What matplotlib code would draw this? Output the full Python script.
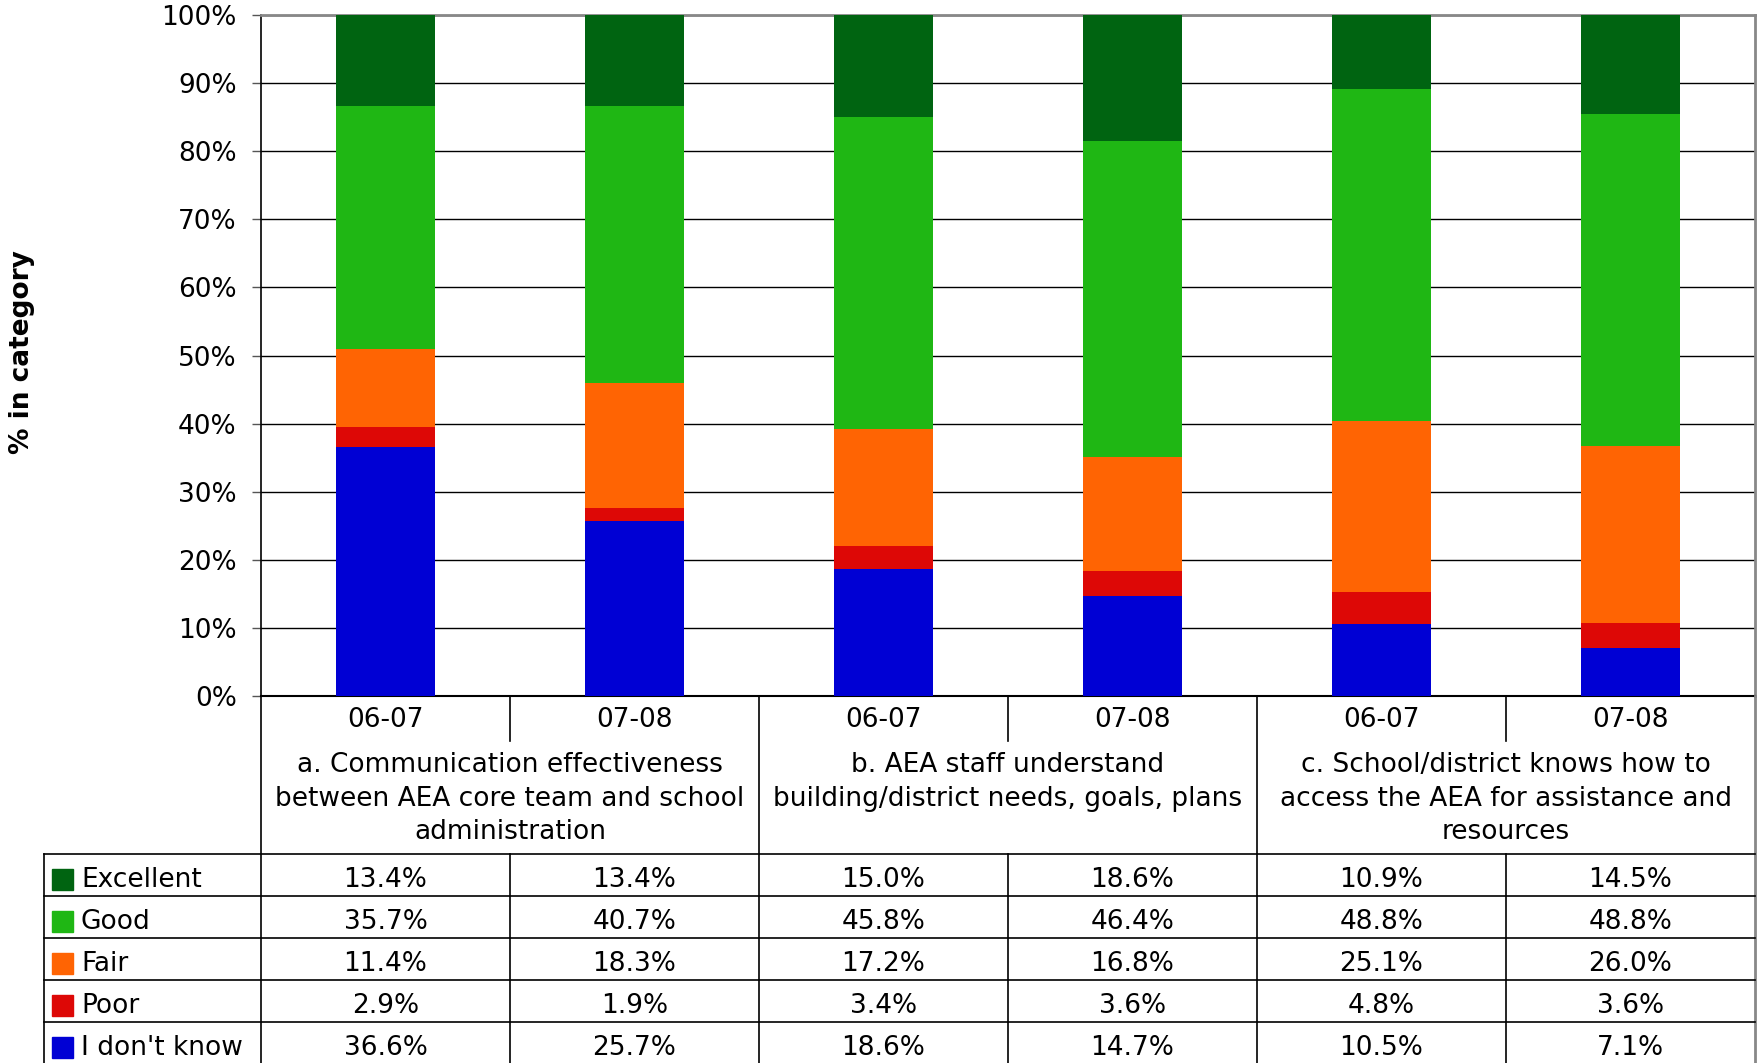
import numpy as np
import matplotlib
matplotlib.use("Agg")
import matplotlib.pyplot as plt
from matplotlib.patches import Rectangle

# === Daten ===
years = ["06-07", "07-08", "06-07", "07-08", "06-07", "07-08"]
groups = [
    "a. Communication effectiveness\nbetween AEA core team and school\nadministration",
    "b. AEA staff understand\nbuilding/district needs, goals, plans",
    "c. School/district knows how to\naccess the AEA for assistance and\nresources",
]
categories = ["Excellent", "Good", "Fair", "Poor", "I don't know"]
colors = ["#006411", "#1FB714", "#FF6403", "#DD0806", "#0000D4"]

excellent = [13.4, 13.4, 15.0, 18.6, 10.9, 14.5]
good = [35.7, 40.7, 45.8, 46.4, 48.8, 48.8]
fair = [11.4, 18.3, 17.2, 16.8, 25.1, 26.0]
poor = [2.9, 1.9, 3.4, 3.6, 4.8, 3.6]
dont_know = [36.6, 25.7, 18.6, 14.7, 10.5, 7.1]
values = [excellent, good, fair, poor, dont_know]

# === Layout (Pixel) ===
W, H = 1757, 1063
AX_L, AX_R, AX_T, AX_B = 261, 1755, 15, 696
TAB_L = 44
COL_W = (AX_R - AX_L) / 6
FS = 19

plt.rcParams["font.family"] = "DejaVu Sans"

fig = plt.figure(figsize=(W / 100, H / 100), dpi=100)
ax = fig.add_axes([AX_L / W, 1 - AX_B / H, (AX_R - AX_L) / W, (AX_B - AX_T) / H])

x = np.arange(6)
bottom = np.zeros(6)
for cat, vals, col in reversed(list(zip(categories, values, colors))):
    ax.bar(x, vals, width=0.4, bottom=bottom, color=col, zorder=3)
    bottom += np.array(vals)

ax.set_xlim(-0.5, 5.5)
ax.set_ylim(0, 100)
ax.set_yticks(range(0, 101, 10))
ax.set_yticklabels([f"{t}%" for t in range(0, 101, 10)], fontsize=FS)
ax.set_xticks([])
ax.tick_params(axis="y", length=6.5, width=1, color="#555555", pad=11)
ax.grid(axis="y", color="#000000", linewidth=1.0, zorder=0)
for s in ["top", "right"]:
    ax.spines[s].set_color("#888888")
    ax.spines[s].set_linewidth(2)
ax.spines["left"].set_linewidth(1.2)
ax.spines["bottom"].set_linewidth(1.5)

fig.text(22 / W, 1 - 352 / H, "% in category", rotation=90, fontsize=FS,
         fontweight="bold", ha="center", va="center")

# === Tabelle unter dem Diagramm ===
tax = fig.add_axes([TAB_L / W, 0, (AX_R - TAB_L) / W, (H - AX_B) / H])
x_left = -0.5 - (AX_L - TAB_L) / COL_W
tax.set_xlim(x_left, 5.5)
tax.set_ylim(H, AX_B)
tax.axis("off")


def px2col(px):
    return (px - AX_L) / COL_W - 0.5


lc = "#000000"
lw = 1.2
row_top = 854
row_h = (H + 1 - row_top) / 5

# Jahreszeile
for i, yr in enumerate(years):
    tax.text(i, 720, yr, ha="center", va="center", fontsize=FS)
for xs in [0.5, 2.5, 4.5]:
    tax.plot([xs, xs], [AX_B, 741], color=lc, lw=lw, clip_on=False)

# Gruppentexte
for g, lab in enumerate(groups):
    tax.text(2 * g + 0.5, 752, lab, ha="center", va="top", fontsize=FS,
             linespacing=1.38)

# Senkrechte Linien
tax.plot([-0.5, -0.5], [AX_B, H], color=lc, lw=lw, clip_on=False)
for xs in [1.5, 3.5]:
    tax.plot([xs, xs], [AX_B, H], color=lc, lw=lw, clip_on=False)
tax.plot([5.5, 5.5], [AX_B, H], color="#888888", lw=2, clip_on=False)
tax.plot([x_left, x_left], [row_top, H], color=lc, lw=lw, clip_on=False)
for xs in [0.5, 2.5, 4.5]:
    tax.plot([xs, xs], [row_top, H], color=lc, lw=lw, clip_on=False)

# Zeilen
for r, (cat, vals, col) in enumerate(zip(categories, values, colors)):
    y0 = row_top + r * row_h
    tax.plot([x_left, 5.5], [y0, y0], color=lc, lw=lw, clip_on=False)
    yc = y0 + row_h / 2 + 5
    sw0 = px2col(52)
    sw1 = px2col(73)
    tax.add_patch(Rectangle((sw0, yc - 11), sw1 - sw0, 21, color=col,
                            clip_on=False))
    tax.text(px2col(81), yc, cat, ha="left", va="center", fontsize=FS)
    for i, v in enumerate(vals):
        tax.text(i, yc, f"{v:.1f}%", ha="center", va="center", fontsize=FS)

fig.savefig("out.png", dpi=100)
